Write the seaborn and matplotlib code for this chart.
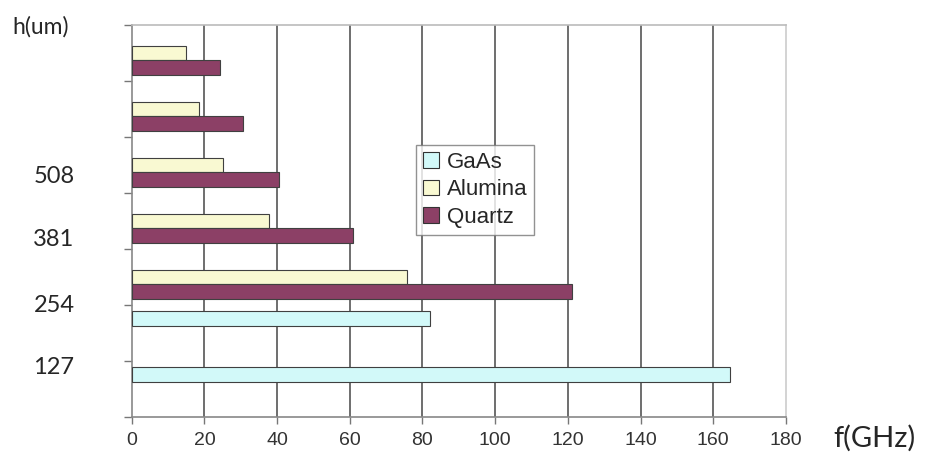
import numpy as np
import pandas as pd
import matplotlib
matplotlib.use("Agg")
import matplotlib.pyplot as plt
import seaborn as sns

# 데이터 (위에서 아래 순서의 그룹)
groups = ["g7", "g6", "g5", "g4", "g3", "g2", "g1"]
series = ["GaAs", "Alumina", "Quartz"]
gaas = [np.nan, np.nan, np.nan, np.nan, np.nan, 82.2, 164.7]
alumina = [15.0, 18.5, 25.1, 37.8, 75.6, np.nan, np.nan]
quartz = [24.3, 30.5, 40.5, 60.9, 121.0, np.nan, np.nan]
h_labels = ["127", "254", "381", "508"]
x_ticks = [0, 20, 40, 60, 80, 100, 120, 140, 160, 180]

colors = {"GaAs": "#CCFFFF", "Alumina": "#FFFFCC", "Quartz": "#993366"}

df = pd.DataFrame({
    "group": groups * 3,
    "series": ["GaAs"] * 7 + ["Alumina"] * 7 + ["Quartz"] * 7,
    "f": gaas + alumina + quartz,
})

sns.set_style("white")
plt.rcParams["font.family"] = ["Liberation Sans", "DejaVu Sans"]

W, H = 927, 457
fig = plt.figure(figsize=(W / 100, H / 100), dpi=100)
ax = fig.add_axes([131.7 / W, 1 - 417 / H, (786 - 131.7) / W, (417 - 25) / H])

sns.barplot(data=df, y="group", x="f", hue="series", order=groups,
            hue_order=series, palette=colors, orient="h", width=0.8,
            edgecolor="#404040", linewidth=0.8, ax=ax, zorder=3)

ax.set_xlim(0, 180)
ax.set_ylim(6.5, -0.5)
ax.set_xticks(x_ticks)
ax.set_xticklabels([str(t) for t in x_ticks], fontsize=14, color="#333333")
ax.set_yticks(range(len(groups)))
ax.set_yticklabels([])
ax.tick_params(axis="y", which="major", length=0)
ax.set_yticks(np.arange(-0.5, len(groups), 1), minor=True)
ax.tick_params(axis="y", which="minor", left=True, length=6, width=1,
               color="#777777", direction="out")
ax.tick_params(axis="x", bottom=True, length=5, width=1, color="#777777",
               direction="out", pad=6)
ax.set_xlabel("")
ax.set_ylabel("")

for x in x_ticks[1:-1]:
    ax.axvline(x, color="#555555", lw=1.2, zorder=1)

for side in ["left", "bottom"]:
    ax.spines[side].set_color("#888888")
    ax.spines[side].set_linewidth(1.2)
ax.spines["top"].set_color("#bbbbbb")
ax.spines["top"].set_linewidth(1.2)
ax.spines["right"].set_color("#cccccc")
ax.spines["right"].set_linestyle((0, (2, 1)))
ax.spines["right"].set_linewidth(1.2)

leg = ax.legend(loc="upper left", bbox_to_anchor=((416 - 131.7) / 654.3, (417 - 145) / 392),
                fontsize=16, frameon=True, fancybox=False, handlelength=0.75,
                handleheight=0.7, handletextpad=0.35, labelspacing=0.3,
                borderpad=0.3, borderaxespad=0)
leg.get_frame().set_edgecolor("#777777")
leg.get_frame().set_linewidth(1.0)
for patch in leg.get_patches():
    patch.set_edgecolor("#333333")

# 축 바깥의 텍스트 라벨
side_font = ["Lato", "DejaVu Sans"]
for lab, py in zip(h_labels, [368, 305, 240, 177]):
    fig.text(54 / W, 1 - py / H, lab, fontsize=17, ha="center", va="center", family=side_font)
fig.text(12 / W, 1 - 27 / H, "h(um)", fontsize=16.5, ha="left", va="center", family=side_font)
fig.text(833 / W, 1 - 438 / H, "f(GHz)", fontsize=21, ha="left", va="center", family=side_font)

fig.savefig("out.png", dpi=100)
